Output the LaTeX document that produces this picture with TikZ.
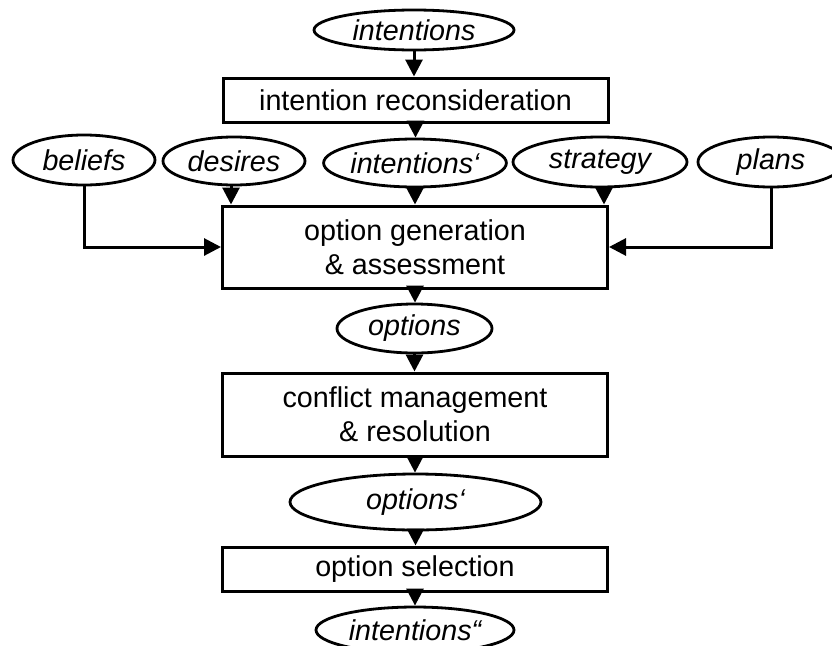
\documentclass[tikz,border=0pt]{standalone}
\usepackage{fontspec}
\setmainfont{Liberation Sans}
\usetikzlibrary{arrows.meta,shapes.geometric}
\begin{document}
\begin{tikzpicture}[x=1pt,y=-1pt,
  every node/.style={font=\fontsize{28.7}{34}\selectfont},
  ell/.style={ellipse,draw,line width=2.8pt,inner sep=0pt,font=\fontsize{28.7}{34}\selectfont\itshape},
  stepbox/.style={rectangle,draw,line width=3pt,inner sep=0pt,minimum width=385pt,align=center},
  arr/.style={line width=3pt,-{Triangle[width=17pt,length=17pt]}}
]
\path[use as bounding box] (0,0) rectangle (832,645);
\clip (0,0) rectangle (832,645);
% ellipses
\node[ell,minimum width=200pt,minimum height=40pt] (int1) at (414,30) {intentions};
\node[ell,minimum width=142pt,minimum height=50pt] (bel) at (84,160) {beliefs};
\node[ell,minimum width=142pt,minimum height=48pt] (des) at (234,161) {desires};
\node[ell,minimum width=180pt,minimum height=48pt] (int2) at (415,163) {intentions‘};
\node[ell,minimum width=174pt,minimum height=50pt] (str) at (600,162) {strategy};
\node[ell,minimum width=146pt,minimum height=50pt] (pla) at (771,162) {plans};
\node[ell,minimum width=155pt,minimum height=49pt] (opt1) at (414.5,328.5) {options};
\node[ell,minimum width=251pt,minimum height=56pt] (opt2) at (415.5,502) {options‘};
\node[ell,minimum width=198pt,minimum height=46pt] (int3) at (415,630) {intentions“};
% boxes
\node[stepbox,minimum height=44pt] (b1) at (415.5,100) {intention reconsideration};
\node[stepbox,minimum height=82pt] (b2) at (415,247) {option generation\\\& assessment};
\node[stepbox,minimum height=83pt] (b3) at (415,414.5) {conflict management\\\& resolution};
\node[stepbox,minimum height=44pt] (b4) at (415,569) {option selection};
% connectors
\draw[arr] (int1.south) -- (int1.south |- b1.north);
\draw[arr] (b1.south) -- (b1.south |- int2.north);
\draw[arr] ([xshift=-3pt]des.south) -- ([xshift=-3pt]des.south |- b2.north);
\draw[arr] (int2.south) -- (int2.south |- b2.north);
\draw[arr] ([xshift=4pt]str.south) -- ([xshift=4pt]str.south |- b2.north);
\draw[arr] (bel.south) |- (b2.west);
\draw[arr] (pla.south) |- (b2.east);
\draw[arr] (b2.south) -- (b2.south |- opt1.north);
\draw[arr] (opt1.south) -- (opt1.south |- b3.north);
\draw[arr] (b3.south) -- (b3.south |- opt2.north);
\draw[arr] (opt2.south) -- (opt2.south |- b4.north);
\draw[arr] (b4.south) -- (b4.south |- int3.north);
\end{tikzpicture}
\end{document}
